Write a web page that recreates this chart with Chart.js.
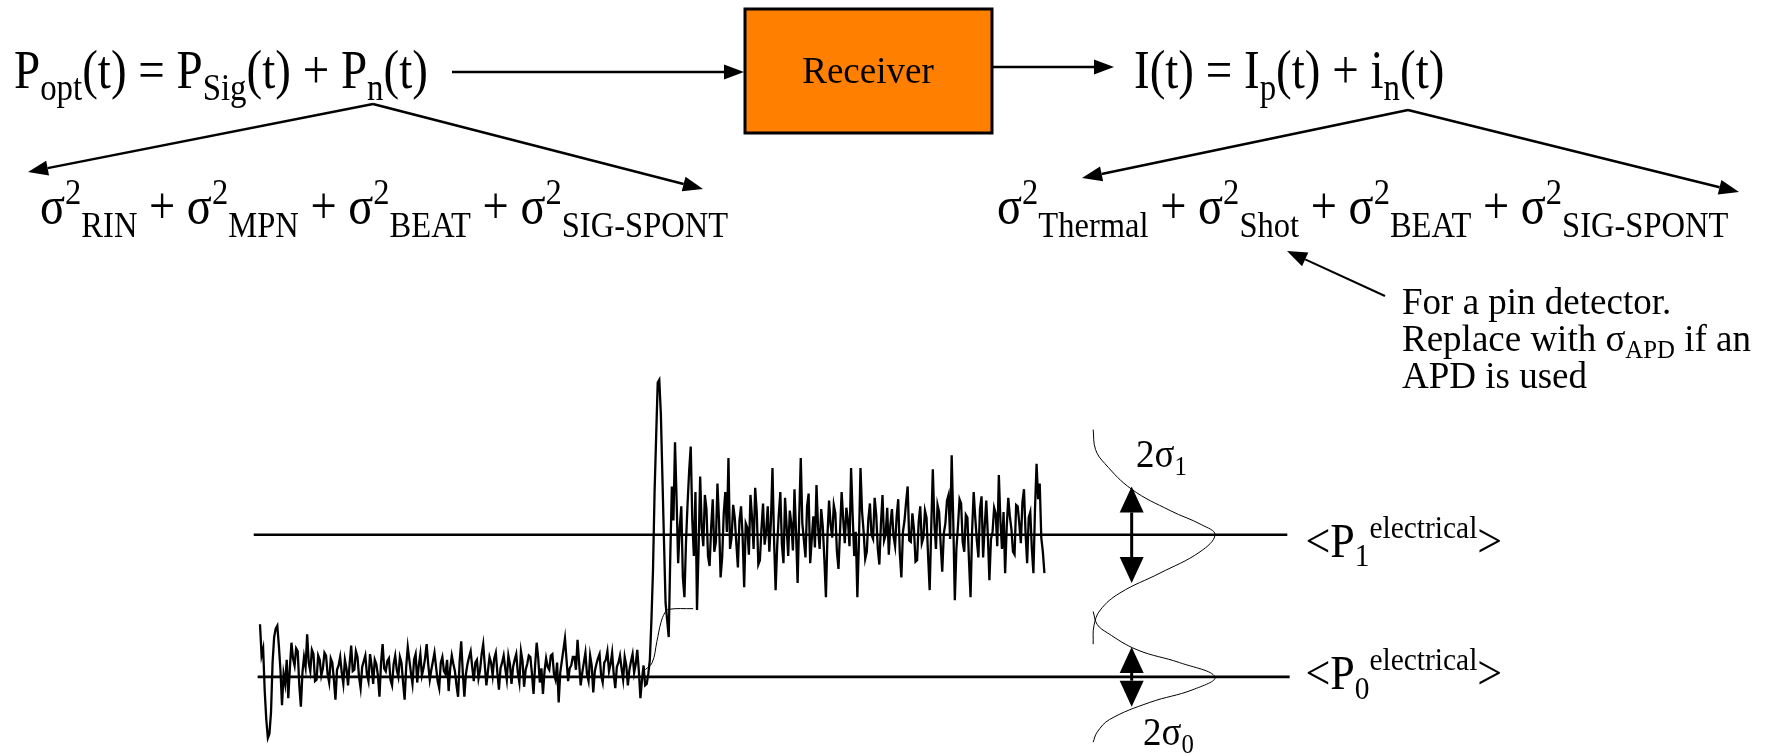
<!DOCTYPE html>
<html>
<head>
<meta charset="utf-8">
<script src="https://cdn.jsdelivr.net/npm/chart.js@4.4.1/dist/chart.umd.min.js"></script>
<style>
  html, body { margin: 0; padding: 0; background: #fff; }
  #wrap { width: 1773px; height: 756px; position: relative; }
</style>
</head>
<body>
<div id="wrap"><canvas id="noiseChart"></canvas></div>
<script>
// receiver output sampled every 0.2 ns, in units where <P0> = 0 and <P1> = 1
const sampleStep = 0.2;
const lowSignal = [
  0.37, 0.15, 0.20, -0.10, -0.30, -0.43, -0.40, -0.25, 0.10, 0.28, 0.34, 0.36, 0.22, 0.05, -0.20, 0.02, -0.05, 0.12, -0.15, 0.06,
  0.24, 0.13, 0.08, 0.20, 0.18, -0.06, -0.21, 0.03, 0.14, 0.07, 0.30, 0.10, 0.04, 0.19, 0.16, -0.03, -0.02, 0.15, 0.12, 0.01,
  0.06, 0.17, 0.15, 0.02, -0.04, 0.13, 0.10, -0.02, -0.16, 0.05, 0.08, 0.14, 0.03, -0.05, 0.12, 0.06, -0.06, 0.09, 0.22, 0.04,
  0.05, 0.18, 0.14, 0.00, -0.08, 0.07, 0.11, 0.15, 0.02, -0.03, 0.16, 0.08, -0.05, 0.12, 0.09, 0.01, -0.14, 0.10, 0.23, 0.06,
  0.04, 0.11, 0.13, -0.02, -0.06, 0.09, 0.15, 0.05, 0.00, 0.14, 0.10, -0.04, -0.16, 0.07, 0.21, 0.12, 0.03, -0.05, 0.12, 0.16,
  -0.04, 0.08, 0.16, 0.01, 0.06, 0.13, 0.23, 0.09, -0.02, 0.05, 0.11, 0.17, 0.07, -0.03, -0.08, 0.10, 0.14, 0.04, 0.02, 0.12,
  -0.10, 0.06, 0.15, 0.09, 0.04, -0.06, -0.14, 0.11, 0.25, 0.03, -0.14, 0.02, 0.09, 0.14, 0.18, 0.07, -0.03, 0.10, 0.12, -0.01,
  0.05, 0.16, 0.23, 0.08, -0.06, 0.04, 0.14, 0.10, 0.01, 0.13, 0.17, 0.03, -0.09, 0.06, 0.10, 0.15, 0.06, -0.02, 0.15, 0.09,
  -0.05, 0.07, 0.12, 0.16, 0.03, -0.04, 0.18, 0.11, -0.07, 0.05, 0.09, 0.15, 0.14, 0.02, -0.12, 0.08, 0.24, 0.13, -0.04, 0.06,
  -0.12, 0.04, 0.13, 0.07, 0.05, 0.15, 0.16, 0.02, -0.02, 0.10, -0.18, 0.03, 0.11, 0.19, 0.27, 0.12, -0.03, 0.06, 0.08, 0.14,
  0.14, 0.05, 0.26, 0.10, -0.06, 0.03, 0.10, 0.17, 0.02, -0.03, 0.15, 0.08, -0.11, 0.04, 0.09, 0.13, 0.16, 0.01, -0.04, 0.10,
  0.12, 0.18, 0.04, 0.09, 0.17, 0.02, -0.08, 0.07, 0.10, 0.15, 0.06, -0.02, 0.14, 0.08, -0.06, 0.05, 0.11, 0.16, 0.03, 0.09,
  0.19, 0.04, -0.15, -0.02, 0.08, -0.06
];
const edgeSignal = [
  -0.05, 0.02, 0.12, 0.40, 0.75, 1.30, 1.69, 2.07, 2.09, 1.85, 1.40, 0.95, 0.52, 0.40, 0.28, 0.85, 1.34, 1.10,
  1.65, 1.25, 0.80, 1.05, 1.20, 0.70, 0.56, 0.95, 1.22, 1.45, 1.62, 1.10, 0.85, 1.30, 0.47, 0.90, 1.41, 1.05
];
const highSignal = [
  0.92, 1.28, 1.18, 0.85, 0.78, 1.05, 1.25, 0.88, 0.95, 1.36, 1.10, 0.70, 0.84, 1.15, 1.30, 1.02, 1.54, 0.90, 0.98, 1.21,
  1.12, 0.94, 0.77, 1.10, 1.20, 0.99, 0.63, 1.08, 1.05, 0.86, 1.28, 1.12, 0.90, 1.33, 1.16, 0.79, 0.82, 1.04, 1.22, 0.93,
  1.02, 1.20, 0.88, 1.09, 1.47, 0.97, 0.61, 0.92, 1.14, 1.30, 0.93, 0.80, 1.26, 1.06, 0.85, 1.17, 1.08, 0.89, 1.32, 1.01,
  0.66, 1.12, 1.54, 1.08, 0.96, 0.84, 1.20, 1.29, 0.80, 0.97, 1.13, 0.91, 1.35, 1.05, 0.90, 1.18, 1.06, 0.83, 0.56, 1.00,
  1.24, 1.07, 0.98, 1.21, 1.15, 0.88, 0.76, 1.03, 1.30, 1.11, 0.94, 1.19, 1.10, 0.92, 1.47, 1.14, 0.85, 1.02, 0.56, 0.95,
  1.47, 1.16, 1.02, 0.83, 0.88, 1.11, 1.22, 1.00, 0.97, 1.26, 1.14, 0.90, 0.79, 1.08, 1.28, 0.96, 1.00, 1.19, 0.86, 1.07,
  1.18, 0.99, 0.92, 1.13, 1.25, 0.87, 0.70, 1.02, 1.10, 1.23, 1.34, 0.96, 0.95, 1.15, 1.04, 0.81, 0.82, 1.09, 1.20, 0.94,
  0.98, 1.17, 1.12, 0.85, 0.61, 1.05, 1.46, 1.08, 0.90, 1.21, 1.16, 0.93, 0.74, 1.01, 1.08, 1.24, 1.28, 0.97, 1.56, 1.10,
  0.54, 0.90, 1.06, 1.25, 1.22, 0.95, 0.88, 1.14, 1.12, 0.82, 0.56, 1.03, 1.30, 1.12, 0.96, 0.84, 1.18, 1.27, 0.84, 1.06,
  1.24, 1.00, 0.68, 0.97, 1.02, 1.19, 1.15, 0.92, 1.42, 1.10, 0.90, 1.16, 0.73, 1.05, 1.26, 1.13, 1.04, 0.88, 0.86, 1.21,
  1.20, 1.08, 0.94, 1.23, 1.32, 1.01, 0.80, 1.12, 1.16, 0.90, 0.73, 1.18, 1.50, 1.25, 1.36, 0.98, 0.88, 0.73
];

// noise-free rising edge (thin trace)
const idealEdgeTime = [49.0, 49.9, 50.5, 51.0, 51.5, 52.0, 55.1];
const idealEdgeLevel = [0.05, 0.10, 0.25, 0.38, 0.45, 0.475, 0.48];

// mean levels and 2-sigma spread
const levelDigits = ['0', '1'];
const levelValues = [0, 1];
const sigmaHalf = [0.21, 0.34];

// level distributions, drawn sideways next to the trace
const pdf1Time = [106.0, 106.3, 107.5, 110.9, 115.8, 119.8, 121.5, 119.6, 114.5, 109.4, 106.9, 106.1, 106.0];
const pdf1Level = [1.74, 1.60, 1.50, 1.32, 1.17, 1.07, 1.00, 0.88, 0.73, 0.59, 0.47, 0.36, 0.23];
const pdf0Time = [106.0, 106.5, 107.8, 111.6, 117.0, 121.5, 118.7, 113.2, 108.1, 106.5, 106.0];
const pdf0Level = [0.46, 0.37, 0.31, 0.19, 0.10, 0.00, -0.09, -0.18, -0.30, -0.39, -0.46];

const SERIF = '"Liberation Serif", "Times New Roman", serif';

window.onload = function() {
  const trace = lowSignal.concat(edgeSignal, highSignal)
    .map((v, i) => ({ x: i * sampleStep, y: v }));
  const toPts = (ts, ls) => ts.map((t, i) => ({ x: t, y: ls[i] }));
  const lineFrom = [-0.3, -0.8];
  const lineTo = [131.0, 130.7];

  const levelSets = levelValues.map((v, i) => ({
    data: [{ x: lineFrom[i], y: v }, { x: lineTo[i], y: v }],
    borderColor: '#000', borderWidth: 2.6, showLine: true, pointRadius: 0, clip: false
  }));

  // text with sub/superscript runs; vs stretches glyphs vertically
  function rich(ctx, x, y, runs, size, o) {
    o = Object.assign({ sub: 0.67, subDy: 0.2, supDy: -0.38, vs: 1, align: 'left' }, o || {});
    const parts = runs.map(([txt, kind]) => {
      const s = kind ? size * o.sub : size;
      ctx.font = s + 'px ' + SERIF;
      return { txt, s, w: ctx.measureText(txt).width,
        dy: kind === 'sub' ? size * o.subDy : kind === 'sup' ? size * o.supDy : 0 };
    });
    let cx = 0;
    if (o.align === 'center') cx -= parts.reduce((a, p) => a + p.w, 0) / 2;
    ctx.save();
    ctx.translate(x, y);
    ctx.scale(1, o.vs);
    ctx.textBaseline = 'alphabetic';
    ctx.textAlign = 'left';
    parts.forEach(p => {
      ctx.font = p.s + 'px ' + SERIF;
      ctx.fillText(p.txt, cx, p.dy);
      cx += p.w;
    });
    ctx.restore();
  }

  function arrow(ctx, x1, y1, x2, y2, len, half, width) {
    const a = Math.atan2(y2 - y1, x2 - x1);
    const bx = x2 - len * Math.cos(a), by = y2 - len * Math.sin(a);
    ctx.lineWidth = width;
    ctx.beginPath(); ctx.moveTo(x1, y1); ctx.lineTo(bx, by); ctx.stroke();
    ctx.beginPath();
    ctx.moveTo(x2, y2);
    ctx.lineTo(bx + half * Math.sin(a), by - half * Math.cos(a));
    ctx.lineTo(bx - half * Math.sin(a), by + half * Math.cos(a));
    ctx.closePath(); ctx.fill();
  }

  const diagram = {
    id: 'diagram',
    afterDatasetsDraw(chart) {
      const ctx = chart.ctx;
      const xs = chart.scales.x, ys = chart.scales.y;
      ctx.save();
      ctx.fillStyle = '#000';
      ctx.strokeStyle = '#000';

      // top block diagram
      const eq = { sub: 0.7, subDy: 0.22, vs: 1.15 };
      rich(ctx, 14, 88, [['P'], ['opt', 'sub'], ['(t) = P'], ['Sig', 'sub'], ['(t) + P'], ['n', 'sub'], ['(t)']], 47, eq);
      arrow(ctx, 452, 72, 744, 72, 20, 7.5, 2.5);
      ctx.fillStyle = '#FF7F00';
      ctx.fillRect(745, 9, 247, 124);
      ctx.lineWidth = 3;
      ctx.strokeRect(745, 9, 247, 124);
      ctx.fillStyle = '#000';
      rich(ctx, 868, 83, [['Receiver']], 37, { align: 'center' });
      arrow(ctx, 993, 67, 1114, 67, 20, 7.5, 2.5);
      rich(ctx, 1134, 88, [['I(t) = I'], ['p', 'sub'], ['(t) + i'], ['n', 'sub'], ['(t)']], 47, eq);

      arrow(ctx, 373, 104, 28, 172, 20, 7.5, 2.5);
      arrow(ctx, 373, 104, 703, 189, 20, 7.5, 2.5);
      arrow(ctx, 1408, 110, 1082, 178, 20, 7.5, 2.5);
      arrow(ctx, 1408, 110, 1739, 192, 20, 7.5, 2.5);

      const s2 = ['2', 'sup'];
      const sg = { sub: 0.7, subDy: 0.27, supDy: -0.36, vs: 1.12 };
      rich(ctx, 40, 223, [['σ'], s2, ['RIN', 'sub'], [' + σ'], s2, ['MPN', 'sub'], [' + σ'], s2, ['BEAT', 'sub'], [' + σ'], s2, ['SIG-SPONT', 'sub']], 46.5, sg);
      rich(ctx, 997, 223, [['σ'], s2, ['Thermal', 'sub'], [' + σ'], s2, ['Shot', 'sub'], [' + σ'], s2, ['BEAT', 'sub'], [' + σ'], s2, ['SIG-SPONT', 'sub']], 46.5, sg);

      arrow(ctx, 1385, 296, 1287, 251, 20, 7.5, 2);
      rich(ctx, 1402, 314, [['For a pin detector.']], 37);
      rich(ctx, 1402, 351, [['Replace with σ'], ['APD', 'sub'], [' if an']], 37);
      rich(ctx, 1402, 388, [['APD is used']], 37);

      // 2-sigma double arrows on each level
      const ax = xs.getPixelForValue(110.9);
      levelValues.forEach((v, i) => {
        const yTop = ys.getPixelForValue(v + sigmaHalf[i]);
        const yBot = ys.getPixelForValue(v - sigmaHalf[i]);
        const yMid = ys.getPixelForValue(v);
        arrow(ctx, ax, yMid, ax, yTop, 26, 12, 3);
        arrow(ctx, ax, yMid, ax, yBot, 26, 12, 3);
      });

      // level labels
      const lx = xs.getPixelForValue(133);
      const labelDy = [12, 22];
      levelValues.forEach((v, i) => {
        const y = ys.getPixelForValue(v) + labelDy[i];
        rich(ctx, lx, y, [['<P'], [levelDigits[i], 'sub'], ['electrical', 'sup'], ['>']], 44, { vs: 1.1 });
      });
      rich(ctx, 1136, 467, [['2σ'], ['1', 'sub']], 37, { vs: 1.1 });
      rich(ctx, 1143, 745, [['2σ'], ['0', 'sub']], 37, { vs: 1.1 });
      ctx.restore();
    }
  };

  new Chart(document.getElementById('noiseChart'), {
    type: 'scatter',
    data: {
      datasets: [
        ...levelSets,
        { data: trace, borderColor: '#000', borderWidth: 2.3, showLine: true, pointRadius: 0, clip: false },
        { data: toPts(idealEdgeTime, idealEdgeLevel), borderColor: '#000', borderWidth: 1, showLine: true, pointRadius: 0, tension: 0.4, clip: false },
        { data: toPts(pdf1Time, pdf1Level), borderColor: '#000', borderWidth: 1, showLine: true, pointRadius: 0, tension: 0.4, clip: false },
        { data: toPts(pdf0Time, pdf0Level), borderColor: '#000', borderWidth: 1, showLine: true, pointRadius: 0, tension: 0.4, clip: false }
      ]
    },
    options: {
      responsive: true,
      maintainAspectRatio: false,
      animation: false,
      layout: { padding: { left: 260, right: 727, top: 350, bottom: 1 } },
      scales: {
        x: { type: 'linear', display: false, min: 0, max: 100 },
        y: { type: 'linear', display: false, min: -0.55, max: 2.3 }
      },
      plugins: { legend: { display: false }, tooltip: { enabled: false } }
    },
    plugins: [diagram]
  });
};
</script>
</body>
</html>
